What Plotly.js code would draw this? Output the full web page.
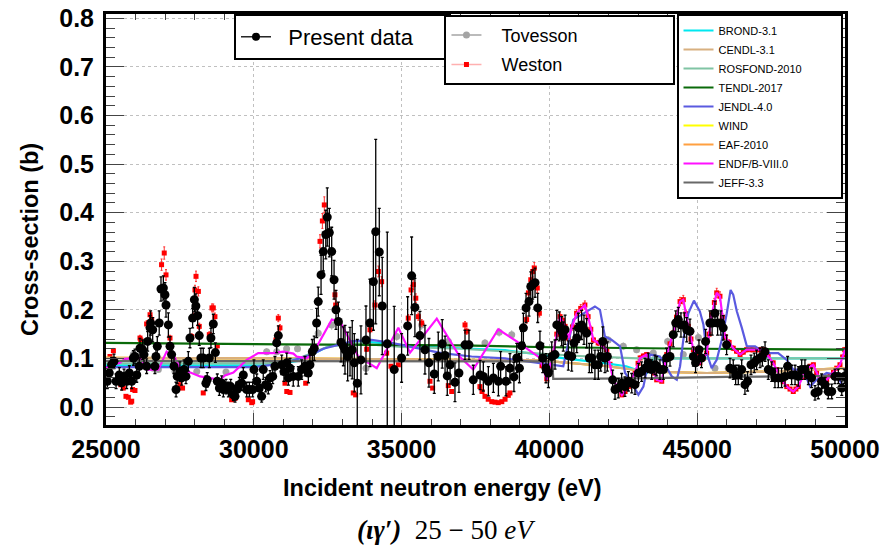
<!DOCTYPE html>
<html>
<head>
<meta charset="utf-8">
<script src="https://cdn.plot.ly/plotly-3.0.1.min.js"></script>
<style>html,body{margin:0;padding:0;background:#fff;}#chart{width:889px;height:554px;}</style>
</head>
<body>
<div id="chart"></div>
<script>
// ---------- Present data (energy eV, cross-section b, uncertainty b) ----------
const presentE = [
25045,25110,25190,25270,25340,25450,25530,25610,25700,25790,
25870,25925,25980,26040,26125,26150,26240,26285,26375,26410,
26490,26510,26580,26655,26690,26735,26800,26860,26940,26995,
27030,27110,27165,27220,27300,27370,27410,27500,27560,27640,
27705,27785,27840,27930,27990,28040,28100,28155,28210,28290,
28380,28425,28495,28550,28630,28700,28765,28835,28915,28970,
29060,29140,29220,29310,29365,29425,29510,29590,29645,29760,
29850,29960,30005,30100,30185,30265,30320,30400,30490,30550,
30640,30715,30775,30830,30945,31020,31115,31170,31225,31335,
31505,31620,31730,31845,31900,31980,32045,32125,32180,32275,
32350,32435,32485,32555,32635,32715,32780,32860,32950,33030,
33085,33175,33255,33330,33400,33500,33625,33795,33930,34045,
34125,34245,34345,34515,34750,35000,35205,35340,35450,35620,
35790,35925,36105,36240,36375,36470,36545,36640,36805,36940,
37145,37280,37425,37655,37765,37935,38105,38275,38350,38530,
38665,38800,38895,38985,39060,39120,39210,39310,39370,39435,
39515,39605,39680,39775,39885,39965,40080,40190,40250,40335,
40415,40470,40530,40640,40755,40830,40925,40980,41090,41170,
41260,41350,41430,41540,41655,41735,41805,41880,41960,42140,
42220,42330,42445,42555,42670,42785,42895,43010,43120,43235,
43345,43460,43570,43630,43740,43855,43965,44080,44190,44275,
44360,44450,44565,44645,44755,44870,44945,45060,45145,45285,
45430,45505,45600,45690,45800,45880,45995,46110,46220,46300,
46390,46505,46615,46705,46820,46930,47010,47125,47205,47295,
47405,47520,47630,47745,47855,47970,48060,48195,48310,48420,
48535,48645,48760,48870,48985,49095,49210,49325,49435,49550,
49660,49775,49890,49975];
const presentXS = [
.053,.070,.087,.094,.053,.066,.050,.063,.053,.070,
.053,.101,.104,.066,.084,.121,.118,.108,.084,.135,
.163,.173,.159,.084,.104,.125,.173,.243,.245,.231,
.210,.169,.125,.108,.084,.036,.063,.073,.060,.077,
.063,.094,.142,.183,.221,.208,.188,.147,.101,.101,
.049,.056,.101,.142,.171,.112,.053,.039,.049,.036,
.042,.036,.042,.025,.022,.036,.046,.049,.066,.036,
.036,.036,.077,.053,.039,.022,.077,.046,.042,.060,
.063,.084,.132,.147,.087,.073,.091,.060,.080,.063,
.063,.077,.084,.070,.087,.114,.121,.173,.217,.272,
.320,.355,.391,.359,.320,.262,.200,.176,.133,.125,
.118,.104,.114,.118,.091,.049,.097,.138,.173,.258,
.361,.319,.208,.130,.077,.101,.167,.270,.205,.147,
.118,.091,.068,.104,.130,.106,.064,.087,.051,.070,
.128,.128,.056,.066,.063,.053,.060,.053,.084,.053,
.080,.062,.101,.080,.126,.163,.204,.217,.248,.252,
.256,.204,.126,.101,.080,.070,.104,.108,.169,.166,
.156,.145,.159,.106,.104,.132,.142,.163,.169,.159,
.152,.101,.101,.087,.087,.104,.135,.101,.104,.056,
.036,.039,.049,.042,.053,.049,.046,.070,.073,.080,
.091,.077,.087,.084,.077,.077,.101,.104,.149,.173,
.180,.169,.169,.159,.156,.104,.091,.118,.101,.135,
.173,.173,.193,.173,.173,.163,.128,.080,.077,.066,
.066,.077,.046,.053,.087,.091,.097,.101,.104,.114,
.077,.073,.060,.060,.060,.063,.084,.066,.066,.063,
.077,.077,.066,.060,.029,.032,.053,.046,.032,.032,
.063,.063,.039,.063];
const presentErr = [
.015,.015,.015,.015,.015,.015,.015,.015,.015,.015,
.015,.015,.015,.015,.015,.02,.02,.02,.015,.02,
.025,.025,.025,.015,.02,.02,.025,.025,.025,.025,
.025,.025,.02,.02,.015,.015,.015,.02,.015,.02,
.015,.02,.02,.02,.025,.025,.02,.02,.02,.02,
.015,.015,.02,.02,.02,.02,.015,.015,.015,.015,
.015,.015,.015,.012,.012,.015,.015,.015,.015,.015,
.015,.015,.02,.015,.015,.012,.02,.015,.015,.015,
.015,.02,.02,.02,.02,.02,.02,.015,.02,.02,
.02,.02,.02,.02,.02,.025,.025,.03,.03,.04,
.04,.05,.06,.05,.05,.04,.04,.04,.04,.04,
.05,.05,.05,.06,.06,.09,.07,.07,.09,.10,
.19,.09,.10,.23,.13,.05,.06,.08,.06,.05,
.05,.05,.04,.05,.05,.04,.04,.04,.04,.04,
.03,.03,.03,.03,.03,.03,.03,.03,.03,.03,
.03,.03,.03,.03,.03,.03,.03,.03,.03,.03,
.03,.03,.03,.03,.03,.03,.03,.03,.03,.03,
.03,.03,.03,.03,.03,.03,.03,.03,.03,.03,
.03,.03,.03,.03,.03,.03,.03,.03,.03,.02,
.02,.02,.02,.02,.02,.02,.02,.02,.02,.02,
.02,.02,.02,.02,.02,.02,.02,.02,.025,.025,
.025,.025,.025,.025,.025,.02,.02,.02,.02,.025,
.025,.025,.025,.025,.025,.025,.02,.02,.02,.02,
.02,.02,.02,.02,.02,.02,.02,.02,.02,.02,
.02,.02,.02,.02,.02,.02,.02,.02,.02,.02,
.02,.02,.02,.02,.015,.015,.015,.015,.015,.015,
.015,.015,.015,.015];

// ---------- Weston ----------
const westonE = [
25135,25250,25415,25500,25585,25675,25755,25835,25870,25900,
25980,26150,26175,26375,26490,26545,26880,26970,27030,27165,
27500,27590,27900,27955,28010,28045,28125,28155,28290,28495,
28585,28630,28685,28765,29250,29365,29815,29930,29960,
30750,30830,30885,31055,31115,31225,31755,32240,32320,32385,
32745,32770,33365,33445,33820,33930,34100,34215,34325,34495,
34640,34890,35225,35320,35395,35480,35565,35680,35960,36050,
36580,36695,37145,37200,37650,37720,37820,37930,38050,38160,
38270,38390,38500,38610,38665,39230,39290,39370,39435,39490,
39590,39660,39750,39910,40020,40130,40250,40360,40450,40530,
40640,40780,40920,41060,41200,41310,41400,41490,41650,41800,
41940,42050,42160,42300,42450,42560,42670,42780,42900,43000,
43070,43180,43290,43380,43460,43550,43630,43800,43880,43970,
44080,44190,44300,44420,44530,44620,44700,44790,44870,44980,
45090,45200,45320,45400,45490,45580,45660,45770,45850,45940,
46080,46220,46330,46450,46560,46670,46840,47010,47120,47240,
47400,47570,47690,47800,47910,48030,48140,48250,48340,48420,
48560,48700,48820,48930,49040,49150,49270,49380,49500,49610,
49720,49830,49920,49990];
const westonXS = [
.104,.116,.052,.046,.039,.022,.020,.010,.012,.036,
.034,.142,.138,.171,.190,.180,.293,.317,.272,.142,
.046,.039,.145,.186,.241,.269,.238,.166,.029,.149,
.204,.204,.186,.126,.015,.018,.015,.009,.011,
.138,.183,.163,.049,.032,.030,.049,.341,.383,.416,
.231,.210,.029,.025,.119,.159,.210,.279,.258,.111,
.084,.087,.183,.241,.252,.224,.186,.173,.053,.039,
.044,.032,.169,.156,.042,.032,.022,.016,.011,.010,
.009,.011,.016,.024,.029,.180,.235,.262,.279,.286,
.245,.193,.085,.058,.080,.111,.150,.186,.178,.166,
.142,.165,.193,.203,.210,.186,.160,.138,.132,.125,
.118,.088,.056,.040,.025,.032,.042,.057,.073,.090,
.101,.105,.108,.096,.084,.070,.056,.053,.080,.108,
.130,.152,.185,.217,.221,.192,.166,.140,.118,.104,
.091,.100,.111,.150,.190,.215,.235,.228,.185,.145,
.133,.121,.115,.108,.113,.118,.118,.118,.118,.118,
.104,.091,.077,.063,.052,.042,.037,.032,.037,.042,
.061,.080,.084,.087,.071,.056,.056,.056,.065,.073,
.080,.087,.103,.118];

// ---------- Tovesson ----------
const tovessonE = [25135,25925,26600,26770,27335,28070,29060,30435,30775,31110,
31480,32180,32635,33795,34835,35680,36580,37820,38300,38725,
41090,41990,42500,42950,43515,44000,44530,45040,45600,46050,49380];
const tovessonXS = [.087,.108,.080,.077,.073,.073,.072,.114,.114,.120,
.120,.152,.169,.080,.145,.169,.135,.132,.154,.149,
.152,.138,.125,.118,.111,.135,.108,.143,.080,.080,.064];
const tovessonErr = [.006,.006,.006,.006,.006,.006,.006,.007,.007,.007,
.007,.009,.010,.006,.009,.010,.008,.008,.009,.009,
.009,.008,.008,.007,.007,.008,.007,.009,.006,.006,.005];

// ---------- Evaluated libraries ----------
const brondE  = [25000,30500,31500,32500,33500,34500,35500,37000,38500,39700,40500,41800,42600,43100,43300,43500,50000];
const brondXS = [.086,.086,.095,.124,.136,.131,.125,.121,.117,.108,.100,.091,.084,.073,.070,.100,.100];
const cendlE  = [25000,31000,37000,39700,41940,43400,45320,47500,50000];
const cendlXS = [.101,.100,.097,.096,.084,.073,.070,.073,.080];
const rosfondE  = [25000,30500,31500,32500,33500,35000,37000,39700,41000,43000,50000];
const rosfondXS = [.090,.090,.100,.124,.131,.124,.120,.110,.105,.100,.100];
const tendlE  = [25000,28500,28600,31000,37000,40000,45000,50000];
const tendlXS = [.132,.131,.130,.129,.127,.123,.120,.118];
const jendlE = [25000,30000,30775,31225,31960,32350,33310,33985,34660,35565,36355,37370,38500,39500,40200,40470,
40810,41540,41710,41880,42110,42390,42560,42730,43010,43180,43400,43740,44140,44310,44420,44530,44700,44890,
45090,45210,45320,45490,45660,45830,46000,46130,46220,46340,46510,46680,46960,47120,47410,47740,48030,48250,
48580,48820,49040,49380,49720,49940];
const jendlXS = [.082,.082,.088,.094,.108,.120,.135,.138,.132,.121,.111,.104,.100,.092,.087,.084,
.180,.207,.200,.145,.138,.125,.070,.056,.025,.042,.108,.104,.063,.056,.084,.138,.193,.219,
.197,.170,.111,.080,.097,.138,.193,.241,.231,.197,.163,.125,.125,.118,.111,.111,.097,.077,
.077,.042,.056,.070,.066,.042];
const windE  = [25000,31000,37000,39700,41940,43400,45320,47500,50000];
const windXS = [.101,.100,.097,.096,.084,.073,.070,.073,.080];
const eafE  = [25000,31000,37000,39700,41940,43400,45320,47500,50000];
const eafXS = [.101,.100,.097,.096,.084,.073,.070,.073,.080];
const endfE = [25000,25250,25470,25640,25920,26040,26210,26375,26770,27050,27335,27500,28180,28630,28855,29025,
29310,29760,30150,30660,31000,31340,31450,31790,32010,32640,32915,33535,34160,34890,35285,36190,36975,37425,
38270,38895,39680,39910,40130,40360,40530,40640,40920,41200,41310,41490,41650,41940,42160,42450,42670,42900,
43070,43290,43460,43630,43800,43970,44190,44420,44530,44700,44870,45090,45320,45490,45660,45770,45940,46220,
46450,46670,47240,47570,47800,48030,48250,48420,48700,48930,49150,49380,49610,49830,50000];
const endfXS = [.080,.087,.091,.099,.100,.104,.097,.077,.077,.114,.101,.080,.063,.058,.056,.065,
.071,.097,.111,.111,.114,.110,.104,.100,.111,.180,.176,.104,.080,.163,.112,.182,.103,.077,
.160,.135,.101,.056,.111,.186,.166,.142,.193,.210,.186,.138,.132,.118,.056,.025,.042,.073,
.101,.108,.084,.056,.053,.108,.152,.217,.221,.166,.118,.091,.111,.190,.235,.228,.145,.121,
.108,.118,.118,.091,.063,.042,.032,.042,.080,.087,.056,.056,.073,.087,.118];
const jeffE  = [25000,40100,40130,43000,46000,50000];
const jeffXS = [.095,.094,.058,.059,.062,.064];

const sp = n => '\u00a0'.repeat(n);

// draw order (z) differs from legend order (rank)
const evals = [
  {name:'WIND', x:windE, y:windXS, color:'#ffff00', rank:6},
  {name:'EAF-2010', x:eafE, y:eafXS, color:'#ffa040', rank:7},
  {name:'BROND-3.1', x:brondE, y:brondXS, color:'#00e8f0', rank:1},
  {name:'CENDL-3.1', x:cendlE, y:cendlXS, color:'#d8b080', rank:2},
  {name:'ROSFOND-2010'+sp(11), x:rosfondE, y:rosfondXS, color:'#80c4a4', rank:3},
  {name:'TENDL-2017', x:tendlE, y:tendlXS, color:'#0a6a0a', rank:4},
  {name:'JENDL-4.0', x:jendlE, y:jendlXS, color:'#5a5ae0', rank:5},
  {name:'ENDF/B-VIII.0', x:endfE, y:endfXS, color:'#ff10ff', rank:8},
  {name:'JEFF-3.3', x:jeffE, y:jeffXS, color:'#686868', rank:9}
];

const traces = [];
traces.push({x:tovessonE, y:tovessonXS, mode:'markers', type:'scatter', showlegend:false,
  marker:{symbol:'circle', size:7, color:'#a4a4a4'},
  error_y:{type:'data', array:tovessonErr, color:'#b0b0b0', thickness:1, width:0}});
traces.push({x:westonE, y:westonXS, mode:'markers', type:'scatter', showlegend:false,
  marker:{symbol:'square', size:5, color:'#ff0000'},
  error_y:{type:'percent', value:4, color:'#ff3030', thickness:1, width:1}});
evals.forEach(ev => traces.push({x:ev.x, y:ev.y, mode:'lines', type:'scatter', name:ev.name,
  legend:'legend3', legendrank:ev.rank, line:{color:ev.color, width:2.2}}));
traces.push({x:presentE, y:presentXS, mode:'markers', type:'scatter', showlegend:false,
  marker:{symbol:'circle', size:9, color:'#000'},
  error_y:{type:'data', array:presentErr, color:'#000', thickness:1.3, width:1.5}});
// legend entries
traces.push({x:[null], y:[null], mode:'lines+markers', name:sp(2)+'Present data'+sp(5), legend:'legend',
  line:{color:'#000', width:1.3}, marker:{color:'#000', size:8}});
traces.push({x:[null], y:[null], mode:'lines+markers', name:sp(3)+'Tovesson'+sp(18), legend:'legend2', legendrank:1,
  legendgroup:'tov', line:{color:'#a4a4a4', width:1.3}, marker:{color:'#a4a4a4', size:7}});
traces.push({x:[null], y:[null], mode:'lines+markers', name:sp(3)+'Weston', legend:'legend2', legendrank:2,
  legendgroup:'wes', line:{color:'#ffb0b0', width:1.5}, marker:{color:'#ff0000', size:5, symbol:'square'}});

const axisCommon = {showline:true, linewidth:3, linecolor:'#000', mirror:'allticks', ticks:'inside',
  tickcolor:'#444', showgrid:true, gridcolor:'#c0c0c0', griddash:'dot', gridwidth:1, zeroline:false,
  tickfont:{family:'Liberation Sans', size:25, color:'#000', weight:700}};

const layout = {
  width:889, height:554,
  margin:{l:106, r:44, t:14, b:129},
  paper_bgcolor:'#fff', plot_bgcolor:'#fff',
  font:{family:'Liberation Sans', color:'#000'},
  xaxis: Object.assign({}, axisCommon, {range:[25000,50000], dtick:5000, tick0:25000, tickformat:'d',
    ticklen:12, minor:{dtick:1000, ticklen:6, ticks:'inside', tickcolor:'#444'}}),
  yaxis: Object.assign({}, axisCommon, {range:[-0.037,0.809], dtick:0.1, tick0:0, tickformat:'.1f',
    ticklen:18, ticklabelstandoff:4, minor:{dtick:0.02, ticklen:9, ticks:'inside', tickcolor:'#444'}}),
  legend:{x:0.1732, y:1.000, xanchor:'left', yanchor:'top', bgcolor:'#fff', bordercolor:'#000', borderwidth:2,
    font:{size:22, color:'#000'}},
  legend2:{x:0.458, y:0.998, xanchor:'left', yanchor:'top', bgcolor:'#fff', bordercolor:'#000', borderwidth:2,
    traceorder:'grouped', tracegroupgap:3, font:{size:18, color:'#000'}},
  legend3:{x:0.772, y:1.000, xanchor:'left', yanchor:'top', bgcolor:'#fff', bordercolor:'#000', borderwidth:2,
    traceorder:'normal', font:{size:11, color:'#000'}},
  annotations:[
    {xref:'paper', yref:'paper', x:0.456, y:-0.153, xanchor:'center', yanchor:'middle', showarrow:false,
     text:'Incident neutron energy (eV)', font:{family:'Liberation Sans', size:23.5, weight:700, color:'#000'}},
    {xref:'paper', yref:'paper', x:-0.1028, y:0.450, xanchor:'center', yanchor:'middle', showarrow:false, textangle:-90,
     text:'Cross-section (b)', font:{family:'Liberation Sans', size:23.5, weight:700, color:'#000'}},
    {xref:'paper', yref:'paper', x:0.4614, y:-0.2555, xanchor:'center', yanchor:'middle', showarrow:false,
     text:'<b><i>(ιγ′)</i></b>'+sp(2)+'25 − 50 <i>eV</i>', font:{family:'Liberation Serif', size:27, color:'#000'}}]
};

Plotly.newPlot('chart', traces, layout, {staticPlot:true, displayModeBar:false});
</script>
</body>
</html>
